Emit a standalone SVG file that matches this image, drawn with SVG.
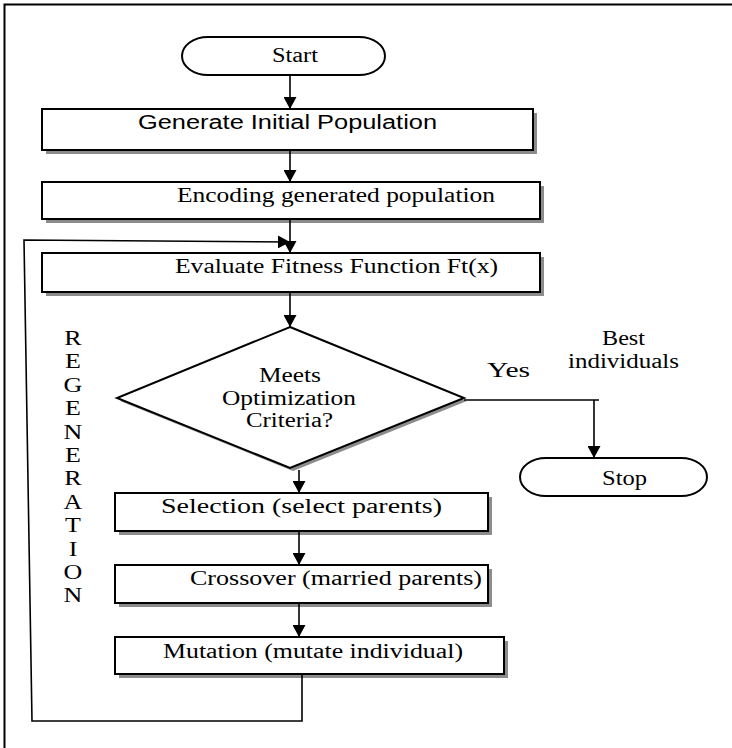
<svg xmlns="http://www.w3.org/2000/svg" width="732" height="748" viewBox="0 0 732 748">
<defs>
<marker id="ah" viewBox="0 0 12 13" refX="12" refY="6.5" markerWidth="12" markerHeight="13" markerUnits="userSpaceOnUse" orient="auto">
<path d="M0,0 L12,6.5 L0,13 z" fill="#000"/>
</marker>
</defs>
<style>
.box{fill:#fff;stroke:#000;stroke-width:2}
.sh{fill:#8c8c8c;stroke:none}
.t{font-family:"Liberation Serif","Times New Roman",serif;font-size:20px;fill:#000}
.a{font-family:"Liberation Sans",Arial,sans-serif;font-size:20px;fill:#000}
.c{fill:none;stroke:#000;stroke-width:1.6}
.ar{marker-end:url(#ah)}
</style>
<rect width="732" height="748" fill="#fff"/>
<g id="frame"><path d="M4.5,748 V4.5 H732" fill="none" stroke="#000" stroke-width="2"/></g>

<g id="start">
<rect class="box" x="182" y="37" width="203" height="38" rx="26" ry="19"/>
<text class="t" x="272" y="62" textLength="46" lengthAdjust="spacingAndGlyphs">Start</text>
</g>
<g id="generate">
<rect class="sh" x="46" y="113" width="491" height="41"/>
<rect class="box" x="42" y="109" width="491" height="41"/>
<text class="a" x="138" y="129" textLength="299" lengthAdjust="spacingAndGlyphs">Generate Initial Population</text>
</g>
<g id="encoding">
<rect class="sh" x="46" y="186" width="498" height="37"/>
<rect class="box" x="42" y="182" width="498" height="37"/>
<text class="t" x="177" y="202" textLength="318" lengthAdjust="spacingAndGlyphs">Encoding generated population</text>
</g>
<g id="evaluate">
<rect class="sh" x="46" y="257" width="498" height="39"/>
<rect class="box" x="42" y="253" width="498" height="39"/>
<text class="t" x="175" y="273" textLength="323" lengthAdjust="spacingAndGlyphs">Evaluate Fitness Function Ft(x)</text>
</g>
<g id="decision">
<polygon class="sh" points="293,330 467,401 293,471 120,401"/>
<polygon class="box" points="290,327 464,398 290,468 117,398"/>
<text class="t" x="259" y="382" font-size="19" textLength="62" lengthAdjust="spacingAndGlyphs">Meets</text>
<text class="t" x="222" y="405" font-size="19" textLength="134" lengthAdjust="spacingAndGlyphs">Optimization</text>
<text class="t" x="246" y="427" font-size="19" textLength="87" lengthAdjust="spacingAndGlyphs">Criteria?</text>
</g>
<g id="stop">
<rect class="box" x="520" y="458" width="187" height="38" rx="26" ry="19"/>
<text class="t" x="602" y="485" textLength="45" lengthAdjust="spacingAndGlyphs">Stop</text>
</g>
<g id="selection">
<rect class="sh" x="119" y="497" width="373" height="38"/>
<rect class="box" x="115" y="493" width="373" height="38"/>
<text class="t" x="161" y="513" textLength="281" lengthAdjust="spacingAndGlyphs">Selection (select parents)</text>
</g>
<g id="crossover">
<rect class="sh" x="119" y="569" width="373" height="38"/>
<rect class="box" x="115" y="565" width="373" height="38"/>
<text class="t" x="190" y="585" textLength="292" lengthAdjust="spacingAndGlyphs">Crossover (married parents)</text>
</g>
<g id="mutation">
<rect class="sh" x="119" y="641" width="389" height="37"/>
<rect class="box" x="115" y="637" width="389" height="37"/>
<text class="t" x="163" y="658" textLength="300" lengthAdjust="spacingAndGlyphs">Mutation (mutate individual)</text>
</g>

<g id="labels">
<text class="t" x="487" y="377" font-size="22" textLength="43" lengthAdjust="spacingAndGlyphs">Yes</text>
<text class="t" x="602" y="345" font-size="18" textLength="43" lengthAdjust="spacingAndGlyphs">Best</text>
<text class="t" x="568" y="368" font-size="18" textLength="111" lengthAdjust="spacingAndGlyphs">individuals</text>
<g transform="translate(73,0) scale(1.3,1)" class="t" font-size="18" text-anchor="middle">
<text class="t" font-size="18" x="0" y="345">R</text>
<text class="t" font-size="18" x="0" y="368.4">E</text>
<text class="t" font-size="18" x="0" y="391.8">G</text>
<text class="t" font-size="18" x="0" y="415.2">E</text>
<text class="t" font-size="18" x="0" y="438.6">N</text>
<text class="t" font-size="18" x="0" y="462">E</text>
<text class="t" font-size="18" x="0" y="485.4">R</text>
<text class="t" font-size="18" x="0" y="508.8">A</text>
<text class="t" font-size="18" x="0" y="532.2">T</text>
<text class="t" font-size="18" x="0" y="555.6">I</text>
<text class="t" font-size="18" x="0" y="579">O</text>
<text class="t" font-size="18" x="0" y="602.4">N</text>
</g>
</g>

<g id="connectors">
<path class="c ar" d="M290,75 V109"/>
<path class="c ar" d="M290,150 V182"/>
<path class="c ar" d="M290,219 V253"/>
<path class="c ar" d="M302,674 V721 H32 L24,240 L290,242"/>
<path class="c ar" d="M290,292 V327"/>
<path class="c ar" d="M299,470 V493"/>
<path class="c ar" d="M299,531 V565"/>
<path class="c ar" d="M299,603 V637"/>
<path class="c" d="M464,400 H599"/>
<path class="c ar" d="M594,400 V458"/>
</g>
</svg>
